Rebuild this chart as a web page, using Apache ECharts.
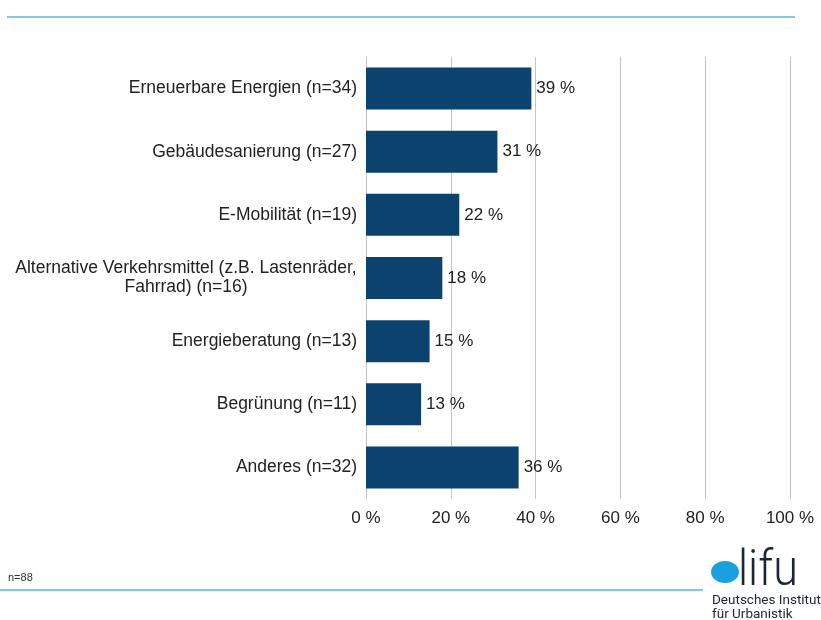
<!DOCTYPE html>
<html>
<head>
<meta charset="utf-8">
<script src="https://cdn.jsdelivr.net/npm/echarts@6/dist/echarts.min.js"></script>
<style>
  html, body { margin: 0; padding: 0; background: #fff; overflow: hidden; }
  #chart { width: 821px; height: 620px; }
</style>
</head>
<body>
<div id="chart"></div>
<script>
// Measures funded (share of municipalities, n=88)
const categories = [
  'Erneuerbare Energien (n=34)',
  'Gebäudesanierung (n=27)',
  'E-Mobilität (n=19)',
  'Alternative Verkehrsmittel (z.B. Lastenräder,\nFahrrad) (n=16)',
  'Energieberatung (n=13)',
  'Begrünung (n=11)',
  'Anderes (n=32)'
];
const shares = [39, 31, 22, 18, 15, 13, 36];
const axisTicks = [0, 20, 40, 60, 80, 100];

const FONT = '"Liberation Sans", Arial, sans-serif';
const CAT_SIZE = 17.5;
const LABEL_SIZE = 17;

// Width of the widest line of a label, used to centre multi-line labels
// while keeping their right edge on the axis.
function textWidth(str) {
  const ctx = document.createElement('canvas').getContext('2d');
  ctx.font = CAT_SIZE + 'px ' + FONT;
  return Math.max.apply(null, str.split('\n').map(s => ctx.measureText(s).width));
}

const categoryData = categories.map(c => {
  if (c.indexOf('\n') < 0) return c;
  const w = Math.ceil(textWidth(c));
  return { value: c, textStyle: { align: 'center', padding: [6, w, 0, 0] } };
});

const chart = echarts.init(document.getElementById('chart'), null, { renderer: 'canvas' });

chart.setOption({
  animation: false,
  backgroundColor: '#ffffff',
  grid: { left: 366, right: 31, top: 57, bottom: 121, containLabel: false },
  xAxis: {
    type: 'value',
    min: axisTicks[0],
    max: axisTicks[axisTicks.length - 1],
    interval: axisTicks[1] - axisTicks[0],
    axisLine: { show: false },
    axisTick: { show: false },
    splitLine: { show: true, lineStyle: { color: '#c4c4c4', width: 1 } },
    axisLabel: {
      formatter: v => v + ' %',
      color: '#222',
      fontFamily: FONT,
      fontSize: LABEL_SIZE,
      margin: 11
    }
  },
  yAxis: {
    type: 'category',
    inverse: true,
    data: categoryData,
    axisLine: { show: false },
    axisTick: { show: false },
    axisLabel: {
      margin: 9,
      color: '#222',
      fontFamily: FONT,
      fontSize: CAT_SIZE,
      lineHeight: 19
    }
  },
  series: [{
    type: 'bar',
    data: shares,
    barWidth: 42,
    itemStyle: { color: '#0b426e' },
    label: {
      show: true,
      position: 'right',
      distance: 5,
      formatter: p => p.value + ' %',
      color: '#222',
      fontFamily: FONT,
      fontSize: LABEL_SIZE
    }
  }],
  graphic: [
    { type: 'line', shape: { x1: 7, y1: 17, x2: 795, y2: 17 }, style: { stroke: '#55b6e6', lineWidth: 1.5 } },
    { type: 'line', shape: { x1: 0, y1: 590, x2: 703, y2: 590 }, style: { stroke: '#55b6e6', lineWidth: 1.5 } },
    { type: 'text', x: 8, y: 572, style: { text: 'n=88', fill: '#333', font: '11px ' + FONT } },
    { type: 'ellipse', shape: { cx: 725, cy: 572, rx: 14, ry: 11 }, style: { fill: '#1aa0e0' } },
    { type: 'text', x: 738, y: 597, scaleX: 0.9, originX: 0, originY: 0,
      style: { text: 'lifu', fill: '#1c2438', fontFamily: 'Roboto', fontWeight: 300, fontSize: 50, verticalAlign: 'bottom', align: 'left' } },
    { type: 'text', x: 712, y: 594, style: { text: 'Deutsches Institut', fill: '#1c2438', fontFamily: 'Roboto', fontSize: 13.5 } },
    { type: 'text', x: 712, y: 608, style: { text: 'für Urbanistik', fill: '#1c2438', fontFamily: 'Roboto', fontSize: 13.5 } }
  ]
});
</script>
</body>
</html>
